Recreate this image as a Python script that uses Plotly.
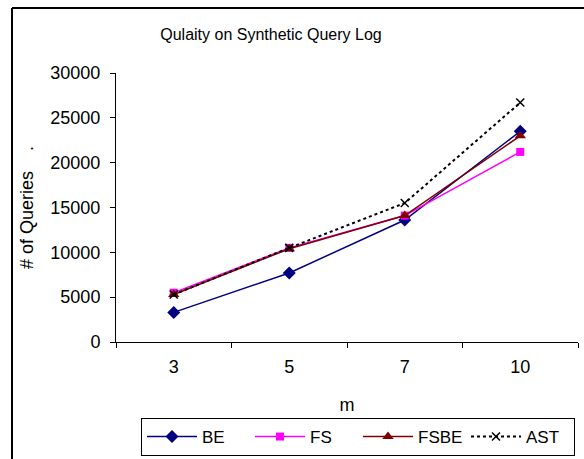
import plotly.graph_objects as go

categories = ["3", "5", "7", "10"]
be = [3300, 7700, 13600, 23500]
fs = [5500, 10500, 14100, 21200]
fsbe = [5300, 10400, 14100, 23000]
ast = [5300, 10500, 15500, 26700]

FONT = "Liberation Sans, Arial, sans-serif"

fig = go.Figure()
fig.add_trace(go.Scatter(x=categories, y=be, name="BE", mode="lines+markers",
                         line=dict(color="#000080", width=1.5),
                         marker=dict(symbol="diamond", size=10, color="#000080")))
fig.add_trace(go.Scatter(x=categories, y=fs, name="FS", mode="lines+markers",
                         line=dict(color="#FF00FF", width=1.5),
                         marker=dict(symbol="square", size=8, color="#FF00FF")))
fig.add_trace(go.Scatter(x=categories, y=fsbe, name="FSBE", mode="lines+markers",
                         line=dict(color="#800000", width=1.5),
                         marker=dict(symbol="triangle-up", size=10, color="#800000")))
fig.add_trace(go.Scatter(x=categories, y=ast, name="AST", mode="lines+markers",
                         line=dict(color="black", width=2, dash="dot"),
                         marker=dict(symbol="x-thin", size=8,
                                     line=dict(color="black", width=1.5))))

fig.update_layout(
    width=584, height=459,
    margin=dict(l=116, r=6, t=73, b=117, autoexpand=False),
    paper_bgcolor="white", plot_bgcolor="white",
    font=dict(family=FONT, size=18, color="black"),
    title=dict(text="Qulaity on Synthetic Query Log", x=271 / 584, xanchor="center",
               y=1 - 34 / 459, yanchor="middle",
               font=dict(family=FONT, size=16, color="black")),
    showlegend=True,
    legend=dict(orientation="h", x=(141 - 116) / 462, xanchor="left",
                y=(342 - 418) / 269, yanchor="top",
                bordercolor="black", borderwidth=1, bgcolor="white",
                itemwidth=50,
                entrywidth=43, entrywidthmode="pixels",
                font=dict(family=FONT, size=17, color="black"),
                tracegroupgap=0),
    xaxis=dict(type="category", range=[-0.5, 3.5], tickson="boundaries",
               ticks="outside", ticklen=5, tickcolor="black",
               showline=True, linecolor="black", linewidth=1,
               showgrid=False, zeroline=False, ticklabelstandoff=8,
               title=dict(text="m", standoff=22, font=dict(size=18)),
               tickfont=dict(size=18)),
    yaxis=dict(range=[0, 30000], dtick=5000, tickformat="d",
               ticks="outside", ticklen=5, tickcolor="black",
               showline=True, linecolor="black", linewidth=1,
               showgrid=False, zeroline=False, ticklabelstandoff=6,
               title=dict(text="# of Queries\u00a0\u00a0\u00a0\u00a0.", standoff=12,
                          font=dict(size=18)),
               tickfont=dict(size=18)),
    shapes=[
        dict(type="line", xref="paper", yref="paper",
             x0=(12 - 116) / 462, x1=(12 - 116) / 462,
             y0=-1.0, y1=1 + (73 - 8) / 269,
             line=dict(color="black", width=2)),
        dict(type="line", xref="paper", yref="paper",
             x0=(12 - 116) / 462, x1=1.5,
             y0=1 + (73 - 8) / 269, y1=1 + (73 - 8) / 269,
             line=dict(color="black", width=2)),
    ],
)

fig.write_html("out.html")
